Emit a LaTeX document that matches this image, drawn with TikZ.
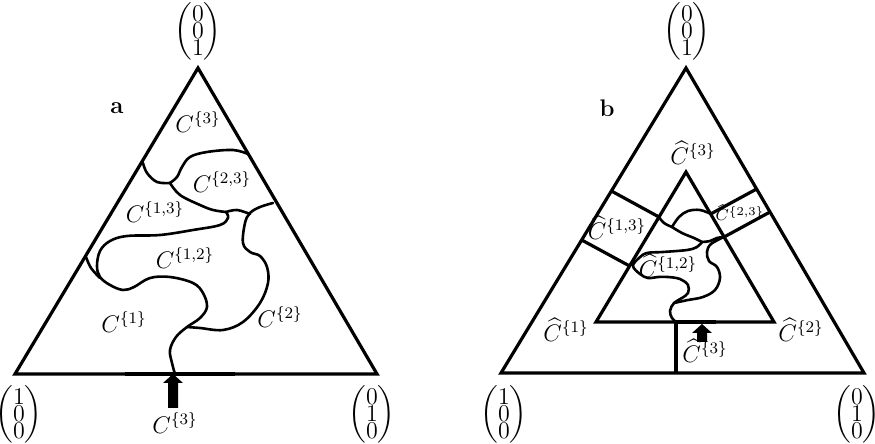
\documentclass[tikz,border=0pt]{standalone}
\usepackage{amsmath}
\newcommand{\tvec}[3]{\ensuremath{\left(\vcenter{\baselineskip=8.5pt\lineskiplimit=-\maxdimen\halign{\hfil$##$\hfil\cr#1\cr#2\cr#3\cr}}\right)}}
\begin{document}
\begin{tikzpicture}[x=0.5pt,y=-0.5pt,
  tri/.style={line width=1.6pt,line join=miter},
  bd/.style={line width=1.3pt,line cap=round,line join=round},
  lab/.style={font=\large,inner sep=0pt},
  vlab/.style={font=\large,inner sep=0pt},
  bigarrow/.style={fill=black}]
\useasboundingbox (0,0) rectangle (875,444);
% ---------------- panel a ----------------
\coordinate (A1) at (15,374);
\coordinate (A2) at (377,374);
\coordinate (A3) at (198,68);
\draw[tri] (A1) -- (A2) -- (A3) -- cycle;
\draw[line width=2.3pt] (125,374) -- (235,374);
\draw[bd] plot[smooth,tension=0.6] coordinates {(248,154) (233,150) (207,152) (190,157) (182,167) (177,177) (170,183)};
\draw[bd] plot[smooth,tension=0.6] coordinates {(143,163) (147,173) (157,182) (170,183)};
\draw[bd] plot[smooth,tension=0.6] coordinates {(170,183) (180,195) (200,205) (213,210) (226,212)};
\draw[bd] plot[smooth,tension=0.6] coordinates {(226,212) (237,210) (250,214)};
\draw[bd] plot[smooth,tension=0.6] coordinates {(226,212) (228,218) (220,225) (193,230) (160,235) (127,236) (110,241) (100,251) (97,266) (100,277) (110,285) (123,290) (134,287) (150,278) (170,277) (193,283) (203,293) (207,307) (200,318) (187,327) (176,337) (170,350) (172,363) (175,374)};
\draw[bd] plot[smooth,tension=0.6] coordinates {(86,257) (91,268) (100,278)};
\draw[bd] plot[smooth,tension=0.6] coordinates {(273,203) (260,207) (250,213) (245,223) (243,243) (250,252) (260,256) (267,267) (268,283) (260,303) (243,322) (223,330) (200,328) (187,327)};
\fill[bigarrow] (168,408) -- (168,383) -- (163,383) -- (173,374) -- (183,383) -- (178,383) -- (178,408) -- cycle;
\node[font=\large\bfseries,inner sep=0pt] (la) at (117,108) {a};
\node[lab] (a3) at (198,122) {$C^{\{3\}}$};
\node[lab] (a23) at (222,182) {$C^{\{2,3\}}$};
\node[lab] (a13) at (155,212) {$C^{\{1,3\}}$};
\node[lab] (a12) at (185,258) {$C^{\{1,2\}}$};
\node[lab] (a1) at (124,322) {$C^{\{1\}}$};
\node[lab] (a2) at (280,317) {$C^{\{2\}}$};
\node[lab] (a3b) at (175,423) {$C^{\{3\}}$};
\node[vlab] (va3) at (198,31) {\tvec001};
\node[vlab] (va1) at (19,414) {\tvec100};
\node[vlab] (va2) at (372,414) {\tvec010};
% ---------------- panel b ----------------
\coordinate (B1) at (501,373);
\coordinate (B2) at (864,373);
\coordinate (B3) at (686,68);
\coordinate (I1) at (596,322);
\coordinate (I2) at (774,322);
\coordinate (I3) at (686,172);
\draw[tri] (B1) -- (B2) -- (B3) -- cycle;
\draw[tri] (I1) -- (I2) -- (I3) -- cycle;
\draw[line width=2.2pt] (676,322) -- (716,322);
\draw[tri] (611.4,191) -- (659,217);
\draw[tri] (581.7,240) -- (629.6,266);
\draw[tri] (756.6,189) -- (710.6,214);
\draw[tri] (770,212) -- (724.1,237);
\draw[tri] (676,322) -- (676,373);
\draw[bd] plot[smooth,tension=0.6] coordinates {(659,217) (664,223) (672,227)};
\draw[bd] plot[smooth,tension=0.6] coordinates {(711,214) (700,210) (688,211) (679,217) (672,227)};
\draw[bd] plot[smooth,tension=0.6] coordinates {(672,227) (682,233) (694,238) (702,242)};
\draw[bd] plot[smooth,tension=0.6] coordinates {(702,242) (710,241) (717,238) (724,237)};
\draw[bd] plot[smooth,tension=0.6] coordinates {(702,242) (697,247) (687,250) (663,252) (647,253) (639,258) (633,266) (640,274) (648,278) (658,277) (668,277) (680,279) (688,285) (688,293) (682,298) (674,303) (670,311) (672,318) (676,322)};
\draw[bd] plot[smooth,tension=0.6] coordinates {(674,303) (688,300) (703,297) (715,290) (720,278) (717,267) (709,261) (707,252) (711,244) (724,237)};
\fill[bigarrow] (697,342) -- (697,333) -- (692,333) -- (702,324) -- (712,333) -- (707,333) -- (707,342) -- cycle;
\node[font=\large\bfseries,inner sep=0pt] (lb) at (607,108) {b};
\node[lab] (b3) at (693,153) {$\widehat{C}^{\{3\}}$};
\node[lab] (b13) at (617,228) {$\widehat{C}^{\{1,3\}}$};
\node[font=\footnotesize,inner sep=0pt] (b23) at (740,213) {$\widehat{C}^{\{2,3\}}$};
\node[lab] (b12) at (668,266) {$\widehat{C}^{\{1,2\}}$};
\node[lab] (b1) at (566,330) {$\widehat{C}^{\{1\}}$};
\node[lab] (b2) at (801,330) {$\widehat{C}^{\{2\}}$};
\node[lab] (b3b) at (705,351) {$\widehat{C}^{\{3\}}$};
\node[vlab] (vb3) at (687,31) {\tvec001};
\node[vlab] (vb1) at (504,414) {\tvec100};
\node[vlab] (vb2) at (857,414) {\tvec010};
\end{tikzpicture}
\end{document}
